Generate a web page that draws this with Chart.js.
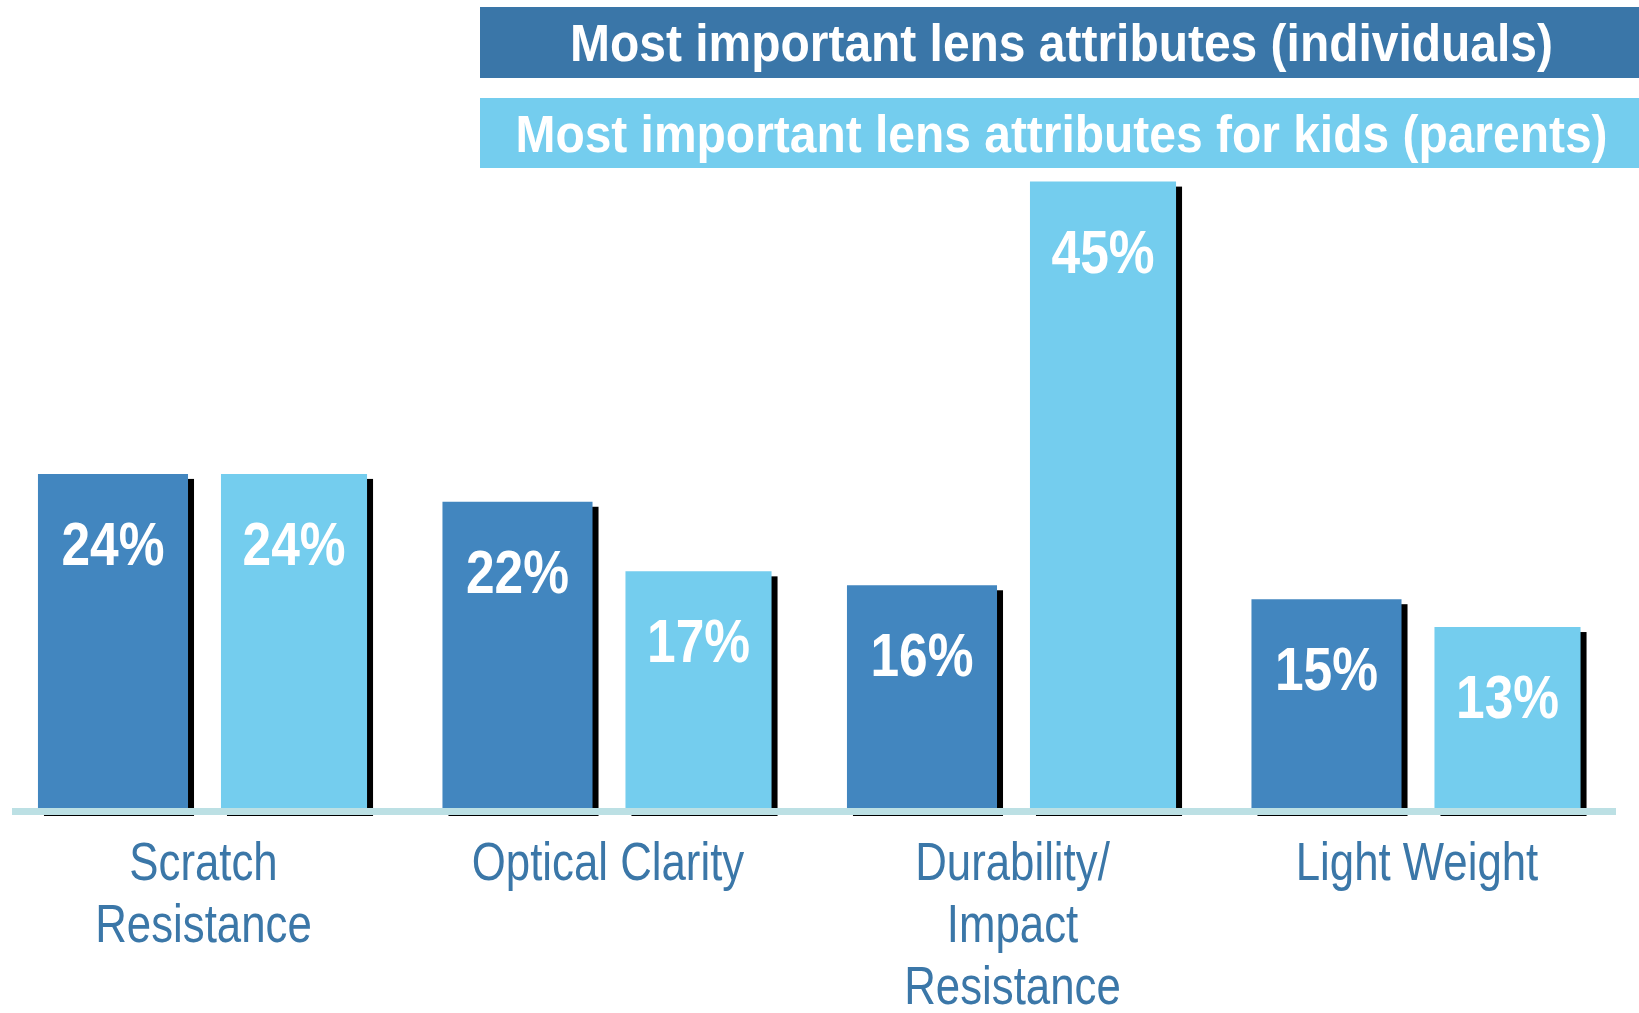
<!DOCTYPE html>
<html>
<head>
<meta charset="utf-8">
<script src="https://cdn.jsdelivr.net/npm/chart.js@4.4.1/dist/chart.umd.min.js"></script>
<style>
    html, body { margin: 0; padding: 0; background: #ffffff; }
    #lensChart { display: block; }
</style>
</head>
<body>
<canvas id="lensChart" width="1639" height="1013"></canvas>
<script>
// Data kategori dan nilai (persen)
const categories = [
    ['Scratch', 'Resistance'],
    ['Optical Clarity'],
    ['Durability/', 'Impact', 'Resistance'],
    ['Light Weight']
];
const seriesLabels = [
    'Most important lens attributes (individuals)',
    'Most important lens attributes for kids (parents)'
];
const individualsValues = [24, 22, 16, 15];
const parentsValues = [24, 17, 45, 13];

const colors = {
    darkBar: '#4286bf',
    lightBar: '#74cdee',
    darkLegend: '#3a76a8',
    lightLegend: '#74cdee',
    axisBand: '#bce0e4',
    labelText: '#3b77a8',
    shadow: '#000000'
};
const baseFont = "'Liberation Sans', Arial, Helvetica, sans-serif";

// Tulis teks yang dipersempit (tidak ada font narrow terpasang)
function drawNarrowText(ctx, text, x, y, squeeze) {
    ctx.save();
    ctx.translate(x, y);
    ctx.scale(squeeze, 1);
    ctx.fillText(text, 0, 0);
    ctx.restore();
}

// Bayangan hitam di belakang setiap batang
const barShadowPlugin = {
    id: 'barShadow',
    beforeDatasetsDraw(chart) {
        const ctx = chart.ctx;
        ctx.save();
        ctx.fillStyle = colors.shadow;
        chart.data.datasets.forEach((ds, i) => {
            chart.getDatasetMeta(i).data.forEach(bar => {
                const p = bar.getProps(['x', 'y', 'base', 'width'], true);
                ctx.fillRect(p.x - p.width / 2 + 6, p.y + 5, p.width, p.base - p.y + 3);
            });
        });
        ctx.restore();
    }
};

// Garis dasar, label nilai di dalam batang, dan label kategori
const valueLabelPlugin = {
    id: 'valueLabels',
    afterDatasetsDraw(chart) {
        const ctx = chart.ctx;
        const zeroY = chart.scales.y.getPixelForValue(0);
        ctx.save();
        ctx.fillStyle = colors.axisBand;
        ctx.fillRect(12, zeroY, 1604, 7);

        ctx.fillStyle = '#ffffff';
        ctx.font = 'bold 62px ' + baseFont;
        ctx.textAlign = 'center';
        ctx.textBaseline = 'alphabetic';
        chart.data.datasets.forEach((ds, i) => {
            chart.getDatasetMeta(i).data.forEach((bar, j) => {
                const p = bar.getProps(['x', 'y'], true);
                drawNarrowText(ctx, ds.data[j] + '%', p.x, p.y + 91, 0.83);
            });
        });

        // label sumbu x, posisi dari skala x
        const xScale = chart.scales.x;
        ctx.fillStyle = colors.labelText;
        ctx.font = '53px ' + baseFont;
        chart.data.labels.forEach((lines, i) => {
            const cx = xScale.getPixelForValue(i);
            lines.forEach((line, k) => {
                drawNarrowText(ctx, line, cx, zeroY + 72 + k * 62, 0.826);
            });
        });
        ctx.restore();
    }
};

// Legenda berbentuk kotak penuh di bagian atas
const boxLegendPlugin = {
    id: 'boxLegend',
    afterDraw(chart) {
        const ctx = chart.ctx;
        const boxes = [
            { y: 7, h: 71, color: colors.darkLegend },
            { y: 98, h: 70, color: colors.lightLegend }
        ];
        const left = 480;
        const width = chart.width - left;
        ctx.save();
        ctx.font = 'bold 51px ' + baseFont;
        ctx.textAlign = 'center';
        ctx.textBaseline = 'alphabetic';
        chart.data.datasets.forEach((ds, i) => {
            const b = boxes[i];
            ctx.fillStyle = b.color;
            ctx.fillRect(left, b.y, width, b.h);
            ctx.fillStyle = '#ffffff';
            drawNarrowText(ctx, ds.label, left + width / 2 + 2, b.y + b.h / 2 + 18.5, 0.94);
        });
        ctx.restore();
    }
};

new Chart(document.getElementById('lensChart'), {
    type: 'bar',
    data: {
        labels: categories,
        datasets: [
            {
                label: seriesLabels[0],
                data: individualsValues,
                backgroundColor: colors.darkBar,
                barPercentage: 0.829,
                categoryPercentage: 0.895
            },
            {
                label: seriesLabels[1],
                data: parentsValues,
                backgroundColor: colors.lightBar,
                barPercentage: 0.807,
                categoryPercentage: 0.895
            }
        ]
    },
    options: {
        responsive: false,
        animation: false,
        layout: {
            padding: { left: 1.25, right: 19.75, top: 112, bottom: 0 }
        },
        plugins: {
            legend: { display: false },
            tooltip: { enabled: false }
        },
        scales: {
            y: {
                display: false,
                min: 0,
                max: 50
            },
            x: {
                grid: { display: false, drawTicks: false },
                border: { display: false },
                afterFit(scale) {
                    scale.height = 205;
                },
                ticks: { display: false }
            }
        }
    },
    plugins: [barShadowPlugin, valueLabelPlugin, boxLegendPlugin]
});
</script>
</body>
</html>
